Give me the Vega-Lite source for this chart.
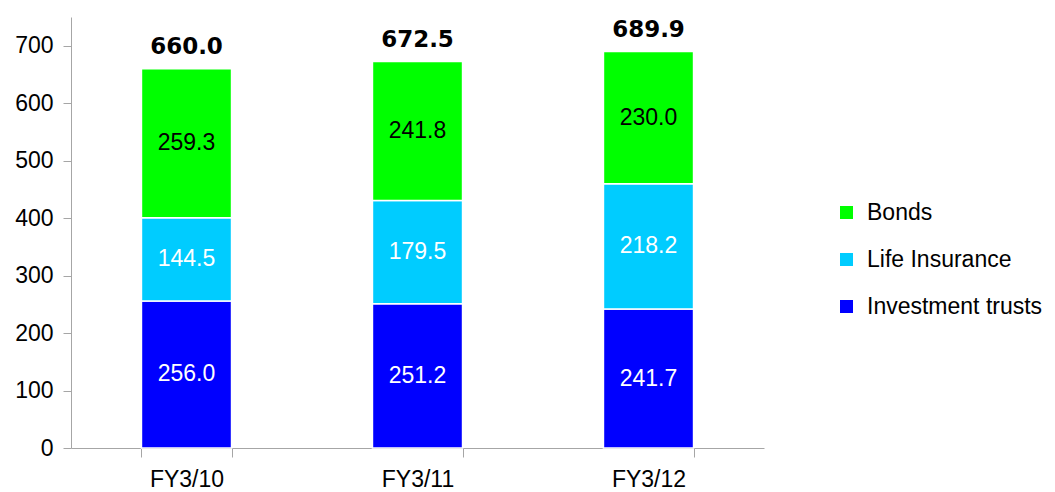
{
  "$schema": "https://vega.github.io/schema/vega-lite/v6.json",
  "width": 693,
  "height": 431,
  "autosize": {"type": "none"},
  "padding": {"left": 71, "top": 17, "right": 291, "bottom": 44},
  "background": "white",
  "config": {
    "view": {"stroke": null},
    "font": "Liberation Sans"
  },
  "datasets": {
    "segments": [
      {"fy": "FY3/10", "series": "Investment trusts", "rank": 1, "value": 256.0},
      {"fy": "FY3/10", "series": "Life Insurance", "rank": 2, "value": 144.5},
      {"fy": "FY3/10", "series": "Bonds", "rank": 3, "value": 259.3},
      {"fy": "FY3/11", "series": "Investment trusts", "rank": 1, "value": 251.2},
      {"fy": "FY3/11", "series": "Life Insurance", "rank": 2, "value": 179.5},
      {"fy": "FY3/11", "series": "Bonds", "rank": 3, "value": 241.8},
      {"fy": "FY3/12", "series": "Investment trusts", "rank": 1, "value": 241.7},
      {"fy": "FY3/12", "series": "Life Insurance", "rank": 2, "value": 218.2},
      {"fy": "FY3/12", "series": "Bonds", "rank": 3, "value": 230.0}
    ],
    "totals": [
      {"fy": "FY3/10", "total": 660.0},
      {"fy": "FY3/11", "total": 672.5},
      {"fy": "FY3/12", "total": 689.9}
    ]
  },
  "encoding": {
    "x": {
      "field": "fy",
      "type": "nominal",
      "sort": null,
      "scale": {"paddingInner": 0.61, "paddingOuter": 0.305},
      "axis": {
        "title": null,
        "labelAngle": 0,
        "labelFont": "Liberation Sans",
        "labelFontSize": 23,
        "labelColor": "#000000",
        "labelPadding": 11,
        "tickBand": "extent",
        "tickSize": 9,
        "tickColor": "#A6A6A6",
        "domainColor": "#A6A6A6",
        "tickWidth": 1,
        "domainWidth": 1
      }
    }
  },
  "layer": [
    {
      "data": {"name": "segments"},
      "mark": {"type": "bar", "stroke": "white", "strokeWidth": 1.5},
      "encoding": {
        "y": {
          "field": "value",
          "type": "quantitative",
          "stack": "zero",
          "scale": {"domain": [0, 750], "nice": false},
          "axis": {
            "title": null,
            "values": [0, 100, 200, 300, 400, 500, 600, 700],
            "grid": false,
            "labelFont": "Liberation Sans",
            "labelFontSize": 23,
            "labelColor": "#000000",
            "labelPadding": 10,
            "tickSize": 8,
            "tickColor": "#A6A6A6",
            "domainColor": "#A6A6A6"
          }
        },
        "order": {"field": "rank", "type": "quantitative", "sort": "ascending"},
        "color": {
          "field": "series",
          "type": "nominal",
          "scale": {
            "domain": ["Bonds", "Life Insurance", "Investment trusts"],
            "range": ["#00FF00", "#00CCFF", "#0000FF"]
          },
          "legend": {
            "title": null,
            "orient": "none",
            "legendX": 764,
            "legendY": 184,
            "padding": 0,
            "symbolType": "square",
            "symbolSize": 169,
            "symbolStrokeWidth": 0,
            "labelFont": "Liberation Sans",
            "labelFontSize": 23,
            "labelColor": "#000000",
            "labelOffset": 9,
            "labelLimit": 0,
            "rowPadding": 23
          }
        }
      }
    },
    {
      "data": {"name": "segments"},
      "mark": {
        "type": "text",
        "font": "Liberation Sans",
        "fontSize": 23,
        "baseline": "middle",
        "align": "center"
      },
      "encoding": {
        "y": {"field": "value", "type": "quantitative", "stack": "zero", "bandPosition": 0.5},
        "order": {"field": "rank", "type": "quantitative", "sort": "ascending"},
        "text": {"field": "value", "type": "quantitative", "format": ".1f"},
        "color": {
          "condition": {"test": "datum.series === 'Bonds'", "value": "#000000"},
          "value": "#FFFFFF"
        }
      }
    },
    {
      "data": {"name": "totals"},
      "mark": {
        "type": "text",
        "font": "DejaVu Sans",
        "fontWeight": "bold",
        "fontSize": 23,
        "baseline": "alphabetic",
        "align": "center",
        "dy": -15,
        "color": "#000000"
      },
      "encoding": {
        "y": {"field": "total", "type": "quantitative"},
        "text": {"field": "total", "type": "quantitative", "format": ".1f"}
      }
    }
  ]
}
